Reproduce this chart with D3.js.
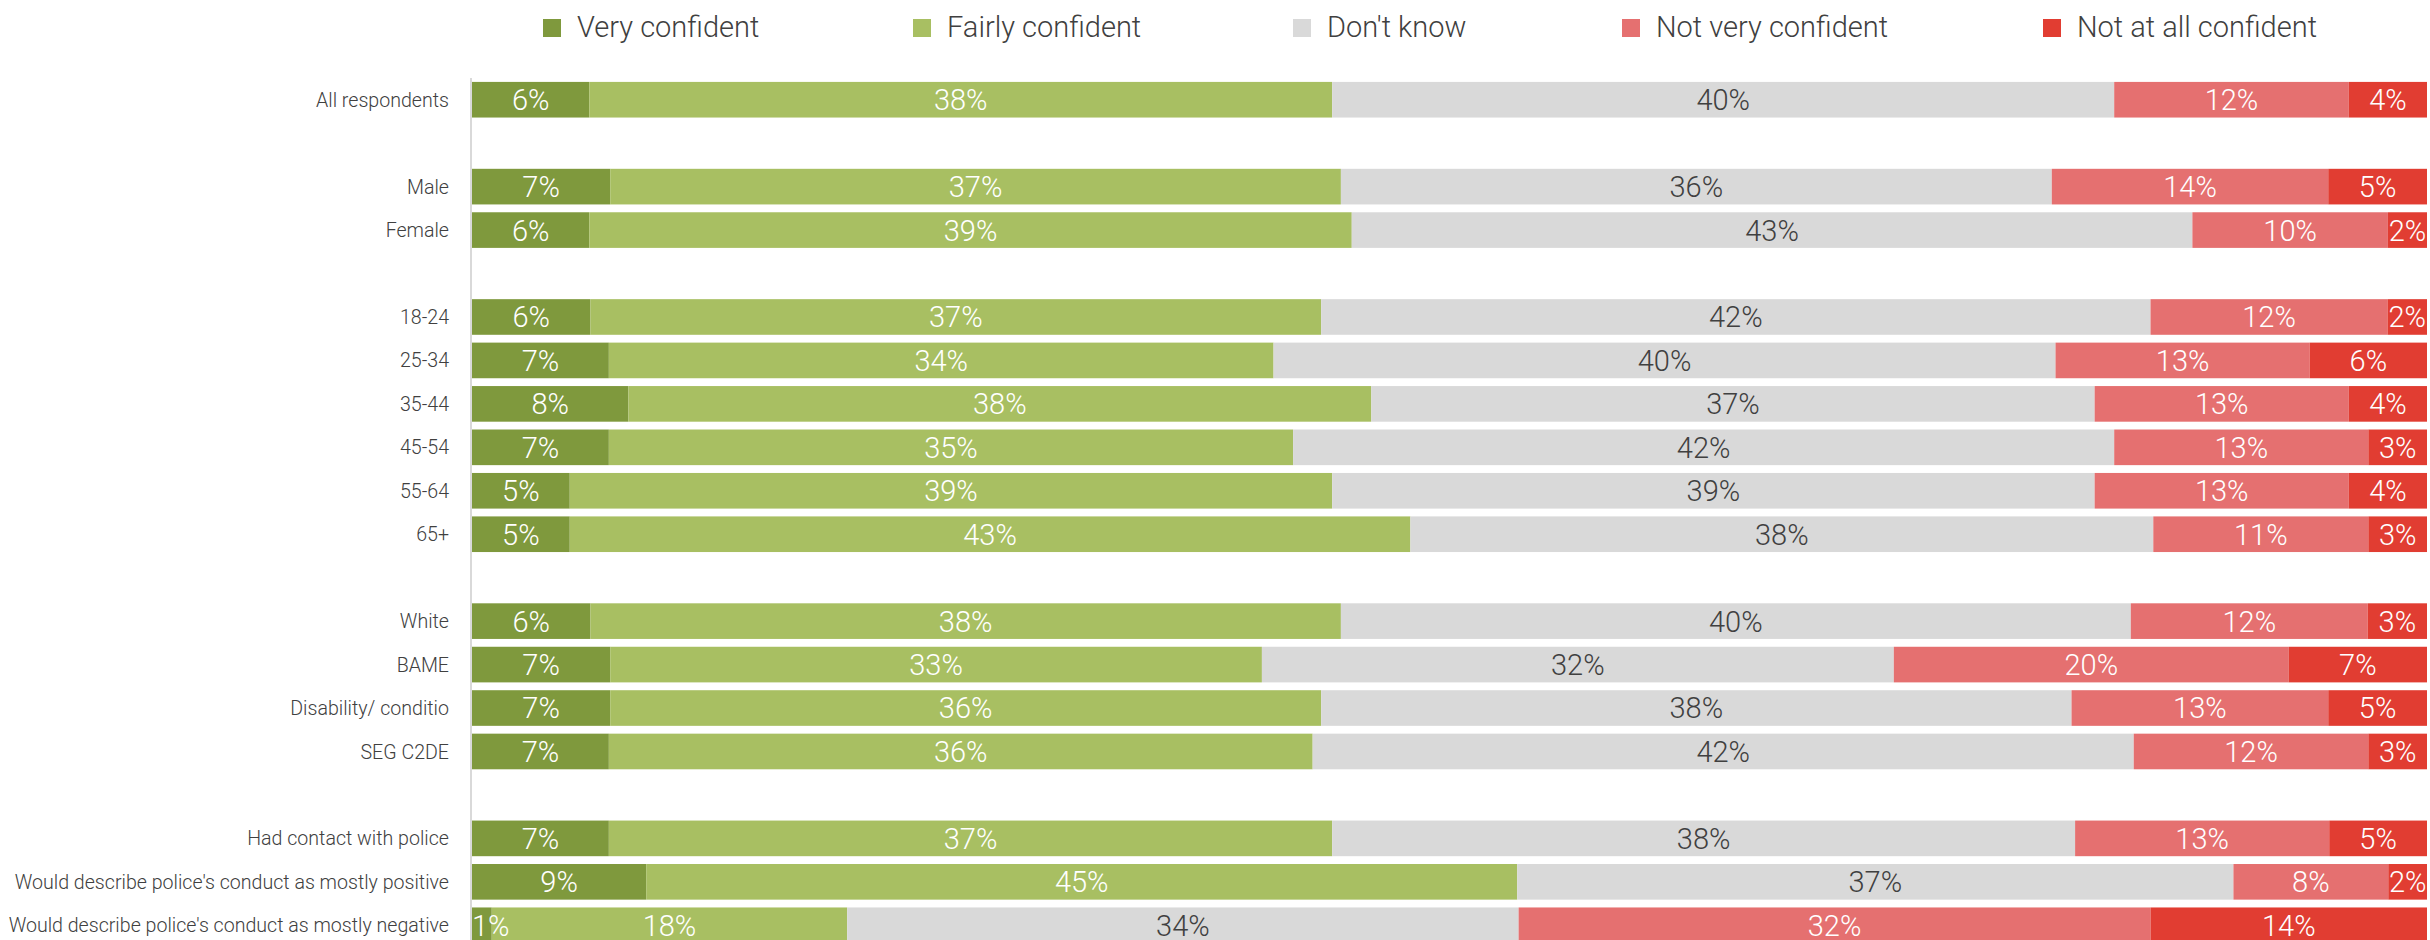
<!DOCTYPE html>
<html>
<head>
<meta charset="utf-8">
<script src="https://cdn.jsdelivr.net/npm/d3@7"></script>
<style>
  body { margin: 0; background: #fff; }
  svg { display: block; font-family: Roboto, "Open Sans", sans-serif; font-weight: 300; }
</style>
</head>
<body>
<svg id="chart" width="2430" height="940"></svg>
<script>
    // rows of the chart, top to bottom
    var categories = ["All respondents", "Male", "Female", "18-24", "25-34", "35-44", "45-54", "55-64", "65+",
        "White", "BAME", "Disability/ conditio", "SEG C2DE",
        "Had contact with police", "Would describe police's conduct as mostly positive",
        "Would describe police's conduct as mostly negative"];
    // which block each row belongs to (a blank row sits between blocks)
    var groupOf = [0, 1, 1, 2, 2, 2, 2, 2, 2, 3, 3, 3, 3, 4, 4, 4];

    var seriesNames = ["Very confident", "Fairly confident", "Don't know", "Not very confident", "Not at all confident"];
    var veryConfident = [6, 7, 6, 6, 7, 8, 7, 5, 5, 6, 7, 7, 7, 7, 9, 1];
    var fairlyConfident = [38, 37, 39, 37, 34, 38, 35, 39, 43, 38, 33, 36, 36, 37, 45, 18];
    var dontKnow = [40, 36, 43, 42, 40, 37, 42, 39, 38, 40, 32, 38, 42, 38, 37, 34];
    var notVeryConfident = [12, 14, 10, 12, 13, 13, 13, 13, 11, 12, 20, 13, 12, 13, 8, 32];
    var notAtAllConfident = [4, 5, 2, 2, 6, 4, 3, 4, 3, 3, 7, 5, 3, 5, 2, 14];

    var colors = ["#7f993d", "#a8bf62", "#d9d9d9", "#e57070", "#e13d32"];
    var labelColors = ["#ffffff", "#ffffff", "#404040", "#ffffff", "#ffffff"];

    var svg = d3.select('#chart');

    var rows = categories.map(function(c, i) {
        return {
            name: c,
            slot: i + groupOf[i],
            "Very confident": veryConfident[i],
            "Fairly confident": fairlyConfident[i],
            "Don't know": dontKnow[i],
            "Not very confident": notVeryConfident[i],
            "Not at all confident": notAtAllConfident[i]
        };
    });
    var slotCount = categories.length + d3.max(groupOf);

    var x = d3.scaleLinear().domain([0, 1]).range([472, 2427]);
    var y = d3.scaleBand()
        .domain(d3.range(slotCount))
        .range([78, 78 + slotCount * 43.45])
        .paddingInner(0.18)
        .paddingOuter(0.09);

    var stacked = d3.stack()
        .keys(seriesNames)
        .offset(d3.stackOffsetExpand)(rows);

    // vertical axis line
    svg.append('line')
        .attr('x1', 471).attr('x2', 471)
        .attr('y1', 78).attr('y2', 940)
        .style('stroke', '#d9d9d9')
        .style('stroke-width', 2);

    var layers = svg.selectAll('g.layer')
        .data(stacked)
        .enter().append('g')
        .attr('class', 'layer')
        .style('fill', function(d, i) { return colors[i]; });

    layers.selectAll('rect')
        .data(function(d) { return d; })
        .enter().append('rect')
        .attr('x', function(d) { return x(d[0]); })
        .attr('width', function(d) { return x(d[1]) - x(d[0]); })
        .attr('y', function(d) { return y(d.data.slot); })
        .attr('height', y.bandwidth());

    // value labels go on top of every bar
    var labelLayers = svg.selectAll('g.labels')
        .data(stacked)
        .enter().append('g')
        .attr('class', 'labels')
        .style('fill', function(d, i) { return labelColors[i]; });

    labelLayers.selectAll('text')
        .data(function(layer) {
            return layer.map(function(d) { return { d: d, key: layer.key }; });
        })
        .enter().append('text')
        .attr('x', function(e) { return (x(e.d[0]) + x(e.d[1])) / 2; })
        .attr('y', function(e) { return y(e.d.data.slot) + y.bandwidth() / 2; })
        .attr('dy', '0.36em')
        .style('text-anchor', 'middle')
        .style('font-size', '29px')
        .text(function(e) { return e.d.data[e.key] + '%'; })
        .each(function() {
            // keep a label inside the plot area, as the original does
            var w = this.getComputedTextLength();
            var cx = +d3.select(this).attr('x');
            if (cx - w / 2 < x(0)) d3.select(this).attr('x', x(0) + w / 2);
        });

    // category labels
    svg.selectAll('text.cat')
        .data(rows)
        .enter().append('text')
        .attr('class', 'cat')
        .attr('x', 449)
        .attr('y', function(d) { return y(d.slot) + y.bandwidth() / 2; })
        .attr('dy', '0.36em')
        .style('text-anchor', 'end')
        .style('font-size', '19.6px')
        .style('fill', '#404040')
        .text(function(d) { return d.name; });

    // legend
    var legendX = [543, 913, 1293, 1622, 2043];
    var legend = svg.selectAll('g.legend')
        .data(seriesNames)
        .enter().append('g')
        .attr('class', 'legend')
        .attr('transform', function(d, i) { return 'translate(' + legendX[i] + ',0)'; });
    legend.append('rect')
        .attr('x', 0).attr('y', 19)
        .attr('width', 18).attr('height', 18)
        .style('fill', function(d, i) { return colors[i]; });
    legend.append('text')
        .attr('x', 34).attr('y', 37)
        .style('font-size', '29px')
        .style('fill', '#404040')
        .text(function(d) { return d; });
</script>
</body>
</html>
